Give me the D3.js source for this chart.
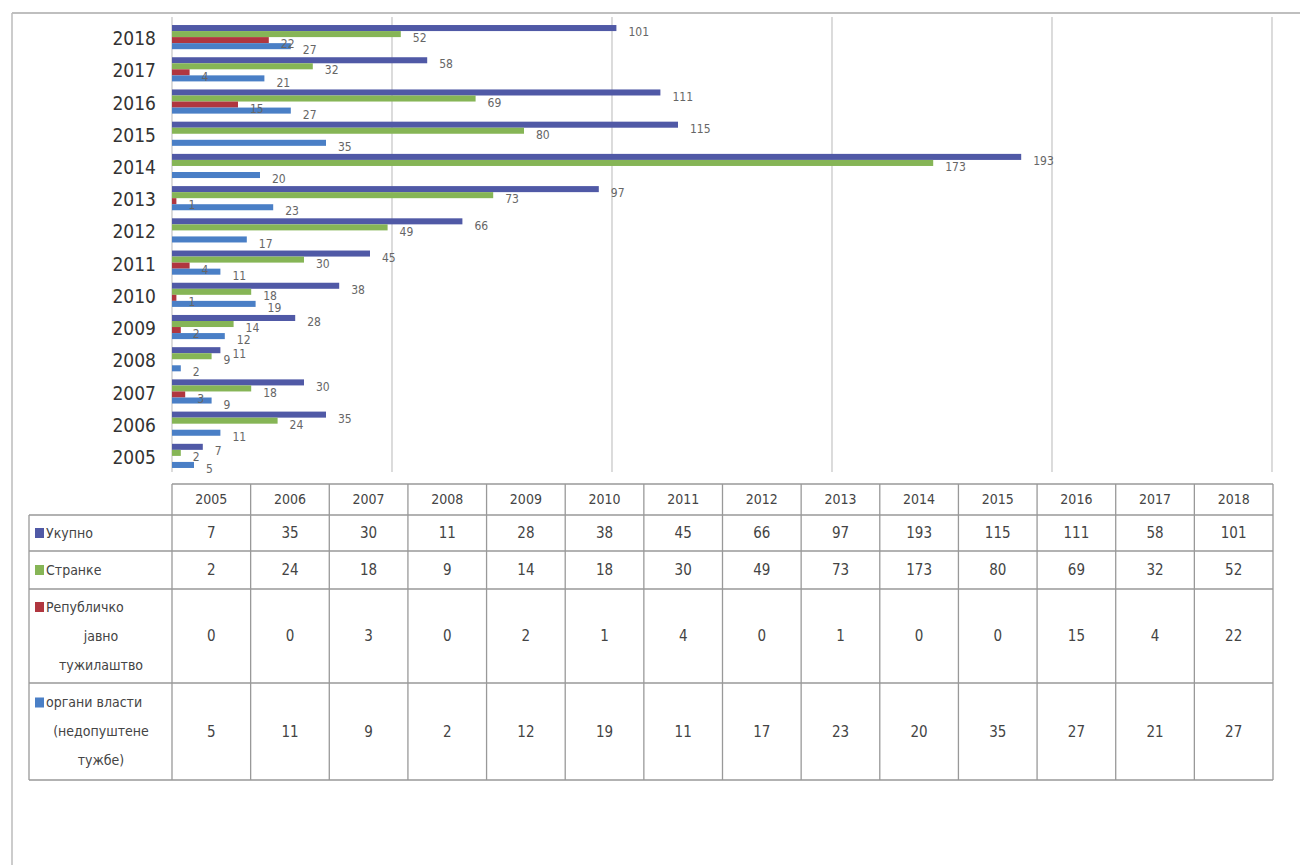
<!DOCTYPE html>
<html>
<head>
<meta charset="utf-8">
<script src="https://cdn.jsdelivr.net/npm/d3@7"></script>
<style>
  body { margin: 0; background: #fff; }
  svg { display: block; }
  text { font-family: "DejaVu Sans Condensed", "Liberation Sans Narrow", "Liberation Sans", sans-serif; }
</style>
</head>
<body>
<svg id="chart" width="1300" height="865"></svg>
<script>
const years = [2005, 2006, 2007, 2008, 2009, 2010, 2011, 2012, 2013, 2014, 2015, 2016, 2017, 2018];
const ukupno = [7, 35, 30, 11, 28, 38, 45, 66, 97, 193, 115, 111, 58, 101];
const stranke = [2, 24, 18, 9, 14, 18, 30, 49, 73, 173, 80, 69, 32, 52];
const rjt = [0, 0, 3, 0, 2, 1, 4, 0, 1, 0, 0, 15, 4, 22];
const organi = [5, 11, 9, 2, 12, 19, 11, 17, 23, 20, 35, 27, 21, 27];
const seriesNames = ["Укупно", "Странке", "Републичко јавно тужилаштво", "органи власти (недопуштене тужбе)"];
const seriesLines = [["Укупно"], ["Странке"], ["Републичко", "јавно", "тужилаштво"], ["органи власти", "(недопуштене", "тужбе)"]];
const seriesColors = ["#5059a6", "#86b556", "#b0363f", "#4a7fc6"];
const xTicks = [0, 50, 100, 150, 200, 250];

const series = [ukupno, stranke, rjt, organi];
const svg = d3.select("#chart");

// frame
svg.append("line").attr("x1", 12).attr("x2", 1300).attr("y1", 13).attr("y2", 13).attr("stroke", "#aaa").attr("stroke-width", 1.5);
svg.append("line").attr("x1", 12).attr("x2", 12).attr("y1", 13).attr("y2", 865).attr("stroke", "#bbb").attr("stroke-width", 1.5);

const x = d3.scaleLinear().domain([0, 250]).range([172, 1272]);
const y = d3.scaleBand().domain(years.slice().reverse()).range([21, 472]).paddingInner(0.25).paddingOuter(0.125);
const yInner = d3.scaleBand().domain(d3.range(4)).range([0, y.bandwidth()]);

// gridlines
svg.append("g").selectAll("line").data(xTicks).join("line")
  .attr("x1", d => x(d)).attr("x2", d => x(d))
  .attr("y1", 17).attr("y2", 472)
  .attr("stroke", "#c4c4c4").attr("stroke-width", 1.2);

// year axis labels
const yAxis = d3.axisLeft(y).tickSize(0).tickPadding(16);
const ga = svg.append("g").attr("transform", "translate(172,2)").call(yAxis);
ga.select(".domain").remove();
ga.selectAll("text").attr("font-size", 19).attr("fill", "#333").attr("font-family", "'DejaVu Sans Condensed', sans-serif");

// bars
years.forEach((yr, i) => {
  const g = svg.append("g").attr("transform", `translate(0,${y(yr)})`);
  series.forEach((s, k) => {
    const v = s[i];
    g.append("rect")
      .attr("x", x(0)).attr("y", yInner(k))
      .attr("width", x(v) - x(0)).attr("height", yInner.bandwidth())
      .attr("fill", seriesColors[k]);
  });
  series.forEach((s, k) => {
    const v = s[i];
    if (v === 0) return;
    g.append("text")
      .attr("x", x(v) + 12).attr("y", yInner(k) + yInner.bandwidth() / 2 + 4)
      .attr("dy", "0.35em")
      .attr("font-size", 12).attr("fill", "#666")
      .text(v);
  });
});

// data table
const colX = d3.scaleBand().domain(years).range([172, 1273]);
const rowEdges = [484, 515, 551, 589, 683, 780];
const tg = svg.append("g");
const stroke = "#999";
tg.append("line").attr("x1", 172).attr("x2", 1273).attr("y1", rowEdges[0]).attr("y2", rowEdges[0]).attr("stroke", stroke).attr("stroke-width", 1.3);
rowEdges.slice(1).forEach(e => {
  tg.append("line").attr("x1", 29).attr("x2", 1273).attr("y1", e).attr("y2", e).attr("stroke", stroke).attr("stroke-width", 1.3);
});
tg.append("line").attr("x1", 29).attr("x2", 29).attr("y1", rowEdges[1]).attr("y2", rowEdges[5]).attr("stroke", stroke).attr("stroke-width", 1.3);
years.forEach(yr => {
  tg.append("line").attr("x1", colX(yr)).attr("x2", colX(yr)).attr("y1", rowEdges[0]).attr("y2", rowEdges[5]).attr("stroke", stroke).attr("stroke-width", 1.3);
});
tg.append("line").attr("x1", 1273).attr("x2", 1273).attr("y1", rowEdges[0]).attr("y2", rowEdges[5]).attr("stroke", stroke).attr("stroke-width", 1.3);

// header
years.forEach(yr => {
  tg.append("text").attr("x", colX(yr) + colX.bandwidth() / 2).attr("y", (rowEdges[0] + rowEdges[1]) / 2)
    .attr("dy", "0.35em").attr("text-anchor", "middle").attr("font-size", 14).attr("fill", "#444").text(yr);
});
// rows
series.forEach((s, k) => {
  const top = rowEdges[k + 1], bot = rowEdges[k + 2];
  const mid = (top + bot) / 2;
  years.forEach((yr, i) => {
    tg.append("text").attr("x", colX(yr) + colX.bandwidth() / 2).attr("y", mid)
      .attr("dy", "0.35em").attr("text-anchor", "middle").attr("font-size", 15).attr("fill", "#444").text(s[i]);
  });
  const lines = seriesLines[k];
  const lh = 29;
  const y0 = mid - (lines.length - 1) * lh / 2;
  tg.append("rect").attr("x", 35).attr("y", y0 - 5).attr("width", 9).attr("height", 10).attr("fill", seriesColors[k]);
  lines.forEach((ln, j) => {
    const t = tg.append("text").attr("y", y0 + j * lh).attr("dy", "0.35em")
      .attr("font-size", 14).attr("fill", "#444").text(ln);
    if (j === 0) t.attr("x", 46).attr("text-anchor", "start");
    else t.attr("x", 101).attr("text-anchor", "middle");
  });
});
</script>
</body>
</html>
